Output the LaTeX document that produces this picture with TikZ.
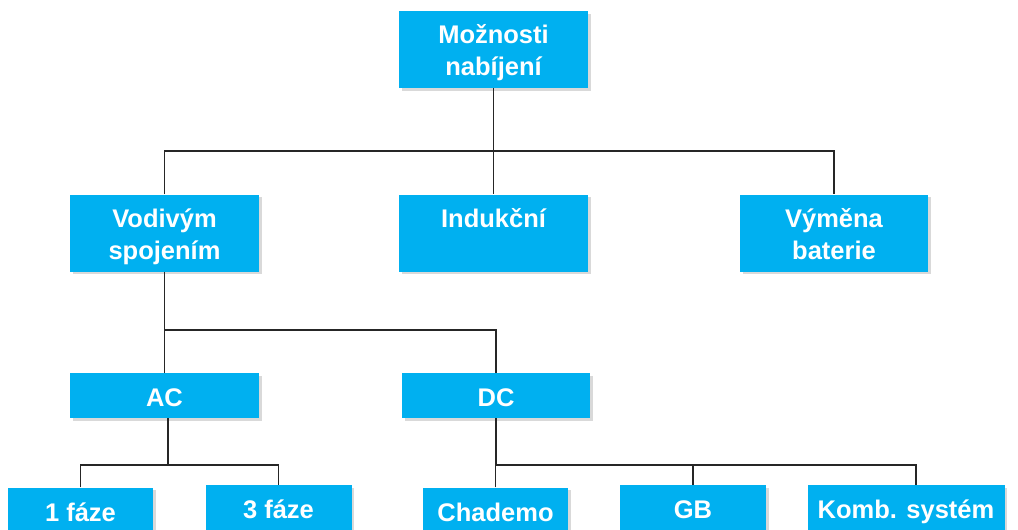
\documentclass[tikz,border=0pt]{standalone}
\usepackage{fontspec}
\setmainfont{Liberation Sans}
\usepackage{tikz}
\usetikzlibrary{shadows}

\definecolor{boxblue}{HTML}{00B0F0}
\definecolor{linegray}{HTML}{262626}
\newcommand{\twolines}[2]{\begin{tabular}[t]{@{}c@{}}#1\\#2\end{tabular}}

\begin{document}
\begin{tikzpicture}[x=1pt,y=-1pt,
  box/.style={fill=boxblue, text=white, inner sep=0pt, align=center,
    font=\bfseries\fontsize{25.5}{32}\selectfont,
    drop shadow={shadow xshift=2.5pt,shadow yshift=-2.5pt,opacity=0.3}},
  tall/.style={box, minimum height=77pt, text height=23pt, text depth=35pt},
  flat/.style={box, minimum height=45pt, text height=22pt, text depth=0pt},
  link/.style={draw=linegray, line width=1.5pt}]
\useasboundingbox (0,0) rectangle (1018,530);
% top
\node[tall, minimum width=189pt] (top) at (493.5,49.5) {\twolines{Možnosti}{nabíjení}};
% second row
\node[tall, minimum width=189pt] (vod) at (164.5,233) {\twolines{Vodivým}{spojením}};
\node[tall, minimum width=189pt] (ind) at (493.5,233) {Indukční};
\node[tall, minimum width=188pt] (vym) at (834,233) {\twolines{Výměna}{baterie}};
% third row
\node[flat, minimum width=189pt] (ac) at (164.5,395.5) {AC};
\node[flat, minimum width=188pt] (dc) at (496,395.5) {DC};
% bottom row
\node[flat, minimum width=145pt] (f1) at (80.5,510) {1 fáze};
\node[flat, minimum width=146pt] (f3) at (278.5,507.5) {3 fáze};
\node[flat, minimum width=145pt] (cha) at (495.5,510) {Chademo};
\node[flat, minimum width=146pt] (gb) at (693,507.5) {GB};
\node[flat, minimum width=197pt] (komb) at (906,507.5) {Komb. systém};
% connectors
\draw[link] (top.south) -- (ind.north);
\coordinate (j1) at (493.5,151);
\draw[link] (vod.north) |- (j1) -| (vym.north);
\draw[link] (vod.south) -- (ac.north);
\coordinate (j2) at (164.5,330);
\draw[link] (j2) -| (dc.north);
\draw[link] ([xshift=3.5pt]ac.south) -- ++(0,47) coordinate (j3);
\draw[link] (f1.north) |- (j3) -| (f3.north);
\draw[link] (dc.south) -- ++(0,47) coordinate (j4);
\draw[link] (cha.north) |- (j4) -| ([xshift=10pt]komb.north);
\draw[link] (gb.north) -- (gb.north |- j4);
\end{tikzpicture}
\end{document}
